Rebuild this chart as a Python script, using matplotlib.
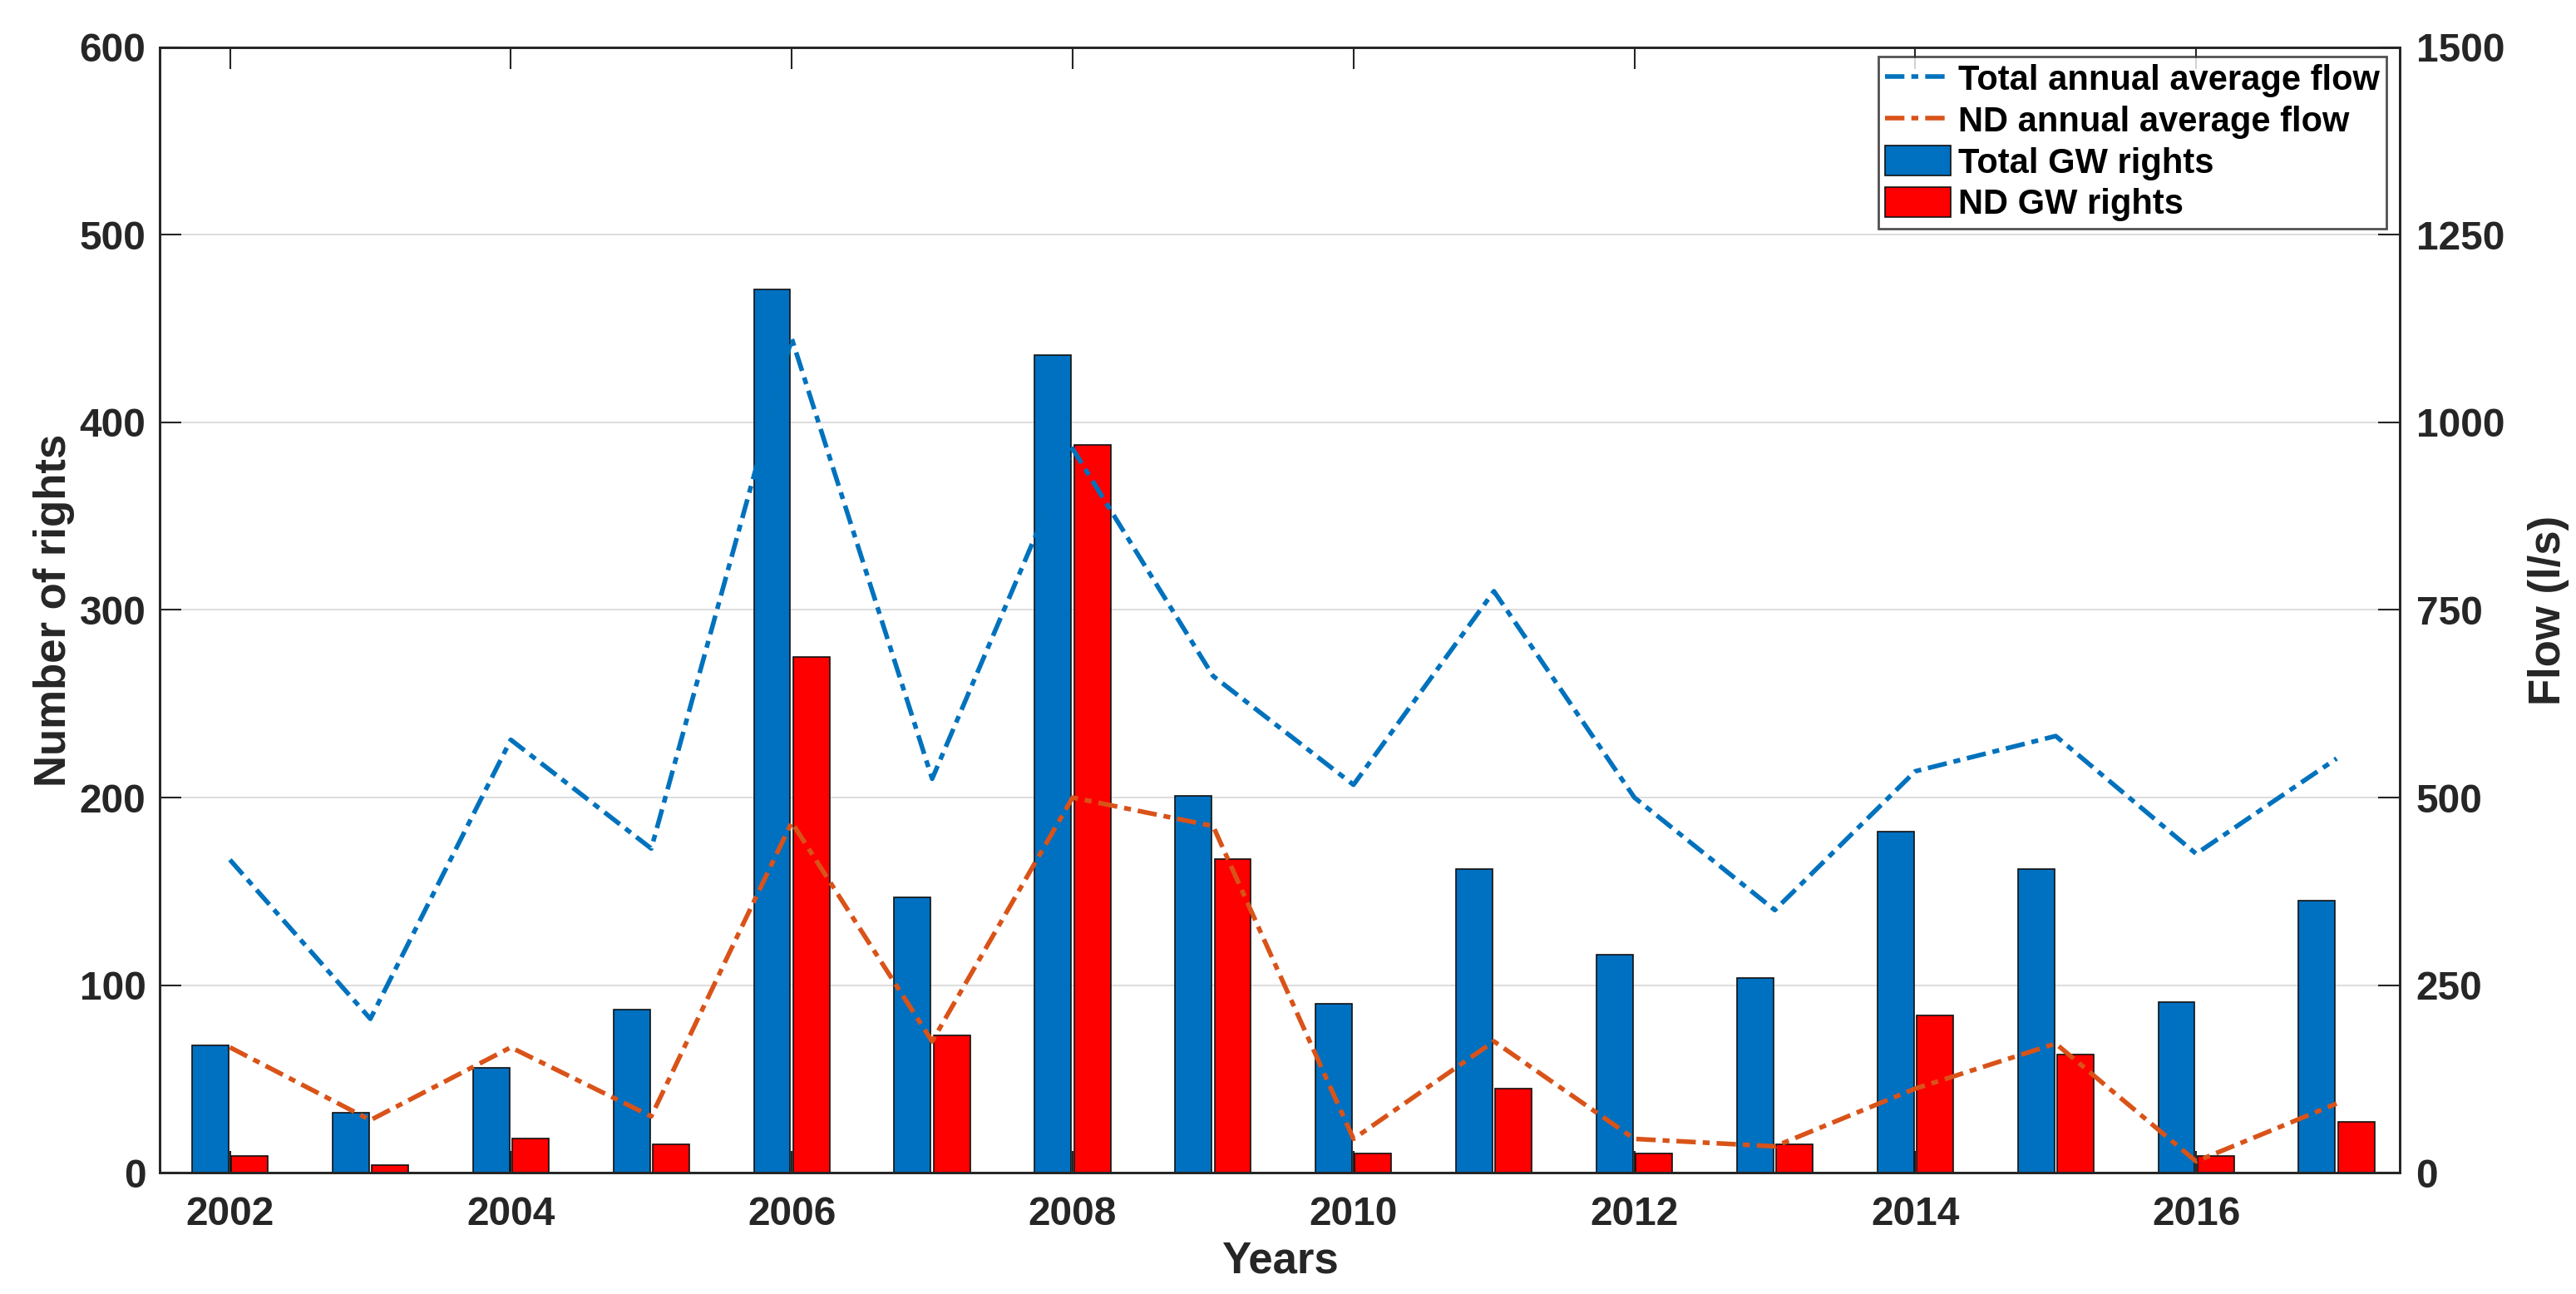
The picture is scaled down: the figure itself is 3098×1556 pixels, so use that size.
import matplotlib
matplotlib.use("Agg")
import matplotlib.pyplot as plt
import numpy as np

years = [2002, 2003, 2004, 2005, 2006, 2007, 2008, 2009, 2010, 2011, 2012, 2013, 2014, 2015, 2016, 2017]
total_gw_rights = [68, 32, 56, 87, 471, 147, 436, 201, 90, 162, 116, 104, 182, 162, 91, 145]
nd_gw_rights = [9, 4, 18, 15, 275, 73, 388, 167, 10, 45, 10, 15, 84, 63, 9, 27]
total_flow = [417, 205, 577, 432, 1112, 525, 965, 662, 517, 775, 500, 350, 535, 582, 425, 552]
nd_flow = [167, 70, 167, 75, 467, 175, 500, 462, 45, 175, 45, 35, 112, 172, 15, 92]

left_ticks = [0, 100, 200, 300, 400, 500, 600]
right_ticks = [0, 250, 500, 750, 1000, 1250, 1500]
x_ticks = [2002, 2004, 2006, 2008, 2010, 2012, 2014, 2016]

plt.rcParams['font.family'] = ['Liberation Sans', 'DejaVu Sans']
plt.rcParams['font.weight'] = 'bold'

txt = '#262626'
fig = plt.figure(figsize=(30.98, 15.56), dpi=100)
ax = fig.add_axes([0.062, 0.0938, 0.8696, 0.8696])
x = np.array(years, dtype=float)
w = 0.26
off = 0.14
b1 = ax.bar(x - off, total_gw_rights, width=w, color='#0070C0', edgecolor='#111111', linewidth=1.2, label='Total GW rights', zorder=2)
b2 = ax.bar(x + off, nd_gw_rights, width=w, color='#FF0000', edgecolor='#111111', linewidth=1.2, label='ND GW rights', zorder=2)
ax.set_xlim(2001.5, 2017.45)
ax.set_ylim(0, 600)
ax.set_yticks(left_ticks)
ax.set_xticks(x_ticks)
ax.grid(axis='y', color='#dedede', linewidth=1.5, zorder=0)
ax.set_axisbelow(True)
ax.tick_params(axis='both', direction='in', length=19, width=1.5, colors=txt, labelsize=34.5, pad=12, top=True)
ax.tick_params(axis='x', pad=20)
for s in ax.spines.values():
    s.set_color(txt)
    s.set_linewidth(2)
ax.set_xlabel('Years', fontsize=38, fontweight='bold', color=txt, labelpad=6)
ax.set_ylabel('Number of rights', fontsize=38, fontweight='bold', color=txt, labelpad=4)

ax2 = ax.twinx()
ax2.set_ylim(0, 1500)
ax2.set_yticks(right_ticks)
l1, = ax2.plot(x, total_flow, linestyle=(0, (4.2, 1.5, 1.5, 1.5)), color='#0072BD', linewidth=4.0, label='Total annual average flow')
l2, = ax2.plot(x, nd_flow, linestyle=(0, (4.2, 1.5, 1.5, 1.5)), color='#D95319', linewidth=4.0, label='ND annual average flow')
ax2.tick_params(axis='y', direction='in', length=19, width=1.5, colors=txt, labelsize=34.5, pad=14)
for s in ax2.spines.values():
    s.set_color(txt)
    s.set_linewidth(2)
ax2.set_ylabel('Flow (l/s)', fontsize=38, fontweight='bold', color=txt, labelpad=20)

leg = ax2.legend([l1, l2, b1, b2], ['Total annual average flow', 'ND annual average flow', 'Total GW rights', 'ND GW rights'],
                 loc='upper right', bbox_to_anchor=(0.994, 0.992), fontsize=30, frameon=True, fancybox=False,
                 borderpad=0.2, labelspacing=0.2, handlelength=1.9, handleheight=0.95, handletextpad=0.2, borderaxespad=0)
leg.get_frame().set_edgecolor('#262626')
leg.get_frame().set_linewidth(2)
for t in leg.get_texts():
    t.set_fontweight('bold')
    t.set_color('black')

fig.savefig('out.png', dpi=100)
